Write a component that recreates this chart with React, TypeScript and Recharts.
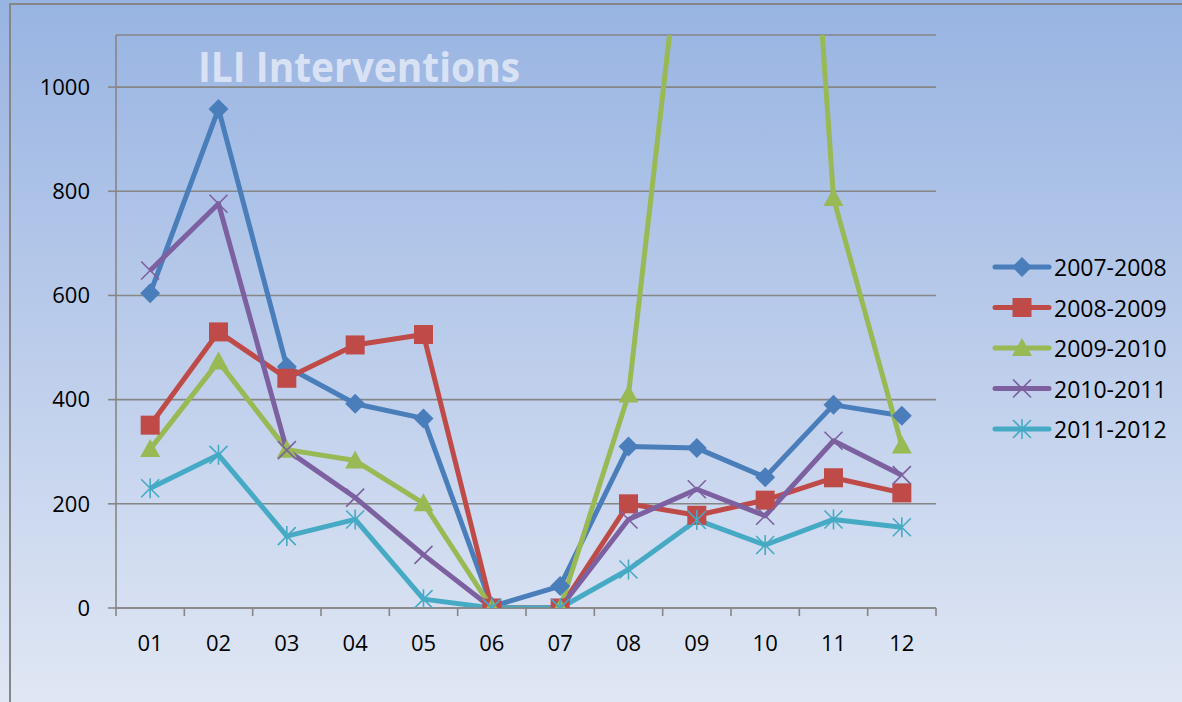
import React from "react";
import { LineChart, Line, XAxis, YAxis, CartesianGrid } from "recharts";

const MONTHS = ["01", "02", "03", "04", "05", "06", "07", "08", "09", "10", "11", "12"];
const S_2007_2008 = [604, 958, 463, 392, 364, 3, 42, 310, 307, 251, 390, 369];
const S_2008_2009 = [351, 530, 441, 505, 525, 0, 0, 200, 178, 207, 250, 221];
const S_2009_2010 = [305, 473, 304, 283, 201, 0, 0, 410, 1560, 2700, 787, 312];
const S_2010_2011 = [648, 776, 303, 212, 102, 0, 0, 170, 228, 177, 321, 255];
const S_2011_2012 = [230, 294, 138, 170, 17, 0, 0, 74, 169, 121, 170, 155];
const Y_TICKS = [0, 200, 400, 600, 800, 1000];
// month positions 1..12 plus the category edges in between (for tick marks)
const X_TICKS = [0.5, 1, 1.5, 2, 2.5, 3, 3.5, 4, 4.5, 5, 5.5, 6, 6.5, 7, 7.5, 8, 8.5, 9, 9.5, 10, 10.5, 11, 11.5, 12, 12.5];

const SERIES = [
  { key: "2007-2008", values: S_2007_2008, color: "#4A7EBB", marker: "diamond" },
  { key: "2008-2009", values: S_2008_2009, color: "#BE4B48", marker: "square" },
  { key: "2009-2010", values: S_2009_2010, color: "#98B954", marker: "triangle" },
  { key: "2010-2011", values: S_2010_2011, color: "#7D60A0", marker: "x" },
  { key: "2011-2012", values: S_2011_2012, color: "#46AAC5", marker: "star" },
];

const data = MONTHS.map((m, i) => {
  const row: Record<string, number | string> = { idx: i + 1, month: m };
  SERIES.forEach((s) => (row[s.key] = s.values[i]));
  return row;
});

const FONT = "'Open Sans', 'Noto Sans', sans-serif";
const AXIS = "#868686";

function Marker({ kind, cx, cy, color }: { kind: string; cx: number; cy: number; color: string }) {
  if (kind === "diamond")
    return <path d={`M${cx},${cy - 10}L${cx + 10},${cy}L${cx},${cy + 10}L${cx - 10},${cy}Z`} fill={color} />;
  if (kind === "square")
    return <rect x={cx - 9.5} y={cy - 9.5} width={19} height={19} fill={color} />;
  if (kind === "triangle")
    return <path d={`M${cx},${cy - 10}L${cx + 10},${cy + 8}L${cx - 10},${cy + 8}Z`} fill={color} />;
  if (kind === "x")
    return (
      <path
        d={`M${cx - 9},${cy - 9}L${cx + 9},${cy + 9}M${cx - 9},${cy + 9}L${cx + 9},${cy - 9}`}
        stroke={color}
        strokeWidth={1.6}
        fill="none"
      />
    );
  return (
    <path
      d={`M${cx - 9},${cy - 9}L${cx + 9},${cy + 9}M${cx - 9},${cy + 9}L${cx + 9},${cy - 9}M${cx},${cy - 10}L${cx},${cy + 10}`}
      stroke={color}
      strokeWidth={1.6}
      fill="none"
    />
  );
}

const makeDot = (kind: string, color: string) => (props: any) => {
  const { cx, cy, index } = props;
  if (cx == null || cy == null) return <g key={`d-${index}`} />;
  return (
    <g key={`d-${kind}-${index}`}>
      <Marker kind={kind} cx={cx} cy={cy} color={color} />
    </g>
  );
};

function MonthTick(props: any) {
  const { x, y, payload } = props;
  const v = payload.value as number;
  if (!Number.isInteger(v)) {
    return <line x1={x} x2={x} y1={y} y2={y + 8} stroke={AXIS} strokeWidth={1.6} />;
  }
  return (
    <text x={x} y={y + 34} textAnchor="middle" dominantBaseline="central" fontFamily={FONT} fontSize={22} fill="#000">
      {MONTHS[v - 1]}
    </text>
  );
}

function LegendBox() {
  return (
    <svg width={190} height={200} style={{ position: "absolute", left: 992, top: 250, overflow: "visible" }}>
      {SERIES.map((s, i) => {
        const cy = 17 + i * 40.5;
        return (
          <g key={s.key}>
            <line x1={3} x2={57} y1={cy} y2={cy} stroke={s.color} strokeWidth={5} strokeLinecap="round" />
            <Marker kind={s.marker} cx={30} cy={cy} color={s.color} />
            <text x={62} y={cy} dominantBaseline="central" fontFamily={FONT} fontSize={23} fill="#000">
              {s.key}
            </text>
          </g>
        );
      })}
    </svg>
  );
}

export default function App() {
  return (
    <div
      style={{
        position: "absolute",
        left: 0,
        top: 0,
        width: 1182,
        height: 702,
        overflow: "hidden",
        background: "linear-gradient(to bottom, #98B4E2 0%, #BCCDEB 50%, #E0E7F4 100%)",
      }}
    >
      <div
        style={{
          position: "absolute",
          left: 9,
          top: 3,
          width: 1200,
          height: 720,
          borderLeft: `2px solid ${AXIS}`,
          borderTop: `2px solid ${AXIS}`,
        }}
      />
      <div style={{ position: "absolute", left: 0, top: 0 }}>
        <LineChart width={1182} height={702} data={data} margin={{ top: 35, right: 246, bottom: 34, left: 0 }}>
          <CartesianGrid vertical={false} stroke={AXIS} strokeWidth={1.6} />
          <XAxis
            dataKey="idx"
            type="number"
            domain={[0.5, 12.5]}
            allowDataOverflow
            ticks={X_TICKS}
            interval={0}
            tick={<MonthTick />}
            tickSize={0}
            tickMargin={0}
            tickLine={false}
            axisLine={{ stroke: AXIS, strokeWidth: 1.6 }}
            height={60}
          />
          <YAxis
            domain={[0, 1100]}
            allowDataOverflow
            ticks={Y_TICKS}
            width={116}
            tickSize={8}
            tickMargin={18}
            axisLine={{ stroke: AXIS, strokeWidth: 1.6 }}
            tickLine={{ stroke: AXIS, strokeWidth: 1.6 }}
            tick={{ fontFamily: FONT, fontSize: 22, fill: "#000" }}
          />
          {SERIES.map((s) => (
            <Line
              key={s.key}
              dataKey={s.key}
              name={s.key}
              stroke={s.color}
              strokeWidth={5}
              strokeLinejoin="round"
              dot={makeDot(s.marker, s.color)}
              activeDot={false}
              isAnimationActive={false}
            />
          ))}
        </LineChart>
      </div>
      <LegendBox />
      <svg width={1182} height={120} style={{ position: "absolute", left: 0, top: 0, pointerEvents: "none" }}>
        <text
          x={198}
          y={82}
          textLength={322}
          lengthAdjust="spacingAndGlyphs"
          fontFamily={FONT}
          fontWeight={700}
          fontSize={42}
          fill="#FFFFFF"
          fillOpacity={0.62}
        >
          ILI Interventions
        </text>
      </svg>
    </div>
  );
}
